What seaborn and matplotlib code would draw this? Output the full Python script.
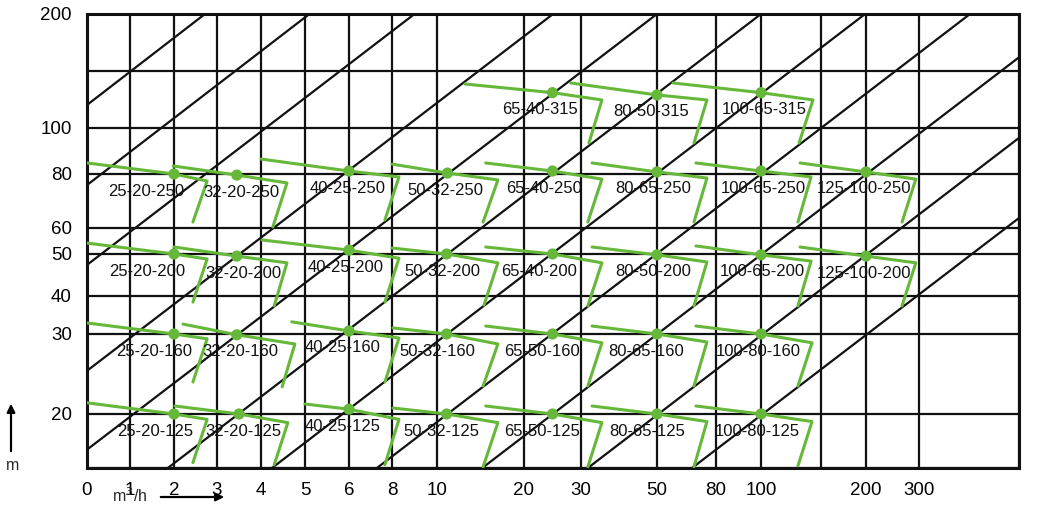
import numpy as np
import pandas as pd
import matplotlib
matplotlib.use("Agg")
import matplotlib.pyplot as plt
import seaborn as sns

# chart grid: flow Q (m3/h) and head H (m), with where each grid line sits on the sheet (px)
q_grid = [0, 1, 2, 3, 4, 5, 6, 8, 10, 20, 30, 50, 80, 100, 150, 200, 300, 500]
q_grid_px = [87, 130, 174, 217, 261, 305, 349, 392, 437, 524, 581, 657, 716, 761, 821, 866, 919, 1019]
q_labels = ["0", "1", "2", "3", "4", "5", "6", "8", "10", "20", "30", "50", "80", "100", "", "200", "300", ""]
h_grid = [15, 20, 30, 40, 50, 60, 80, 100, 150, 200]
h_grid_px = [468, 414, 334, 296, 254, 228, 174, 128, 71, 14]
h_labels = ["", "20", "30", "40", "50", "60", "80", "100", "", "200"]

# pump models: duty point, start of the curve, right corner and lower end of the range
names = ["65-40-315", "80-50-315", "100-65-315",
         "25-20-250", "32-20-250", "40-25-250", "50-32-250", "65-40-250", "80-65-250", "100-65-250", "125-100-250",
         "25-20-200", "32-20-200", "40-25-200", "50-32-200", "65-40-200", "80-50-200", "100-65-200", "125-100-200",
         "25-20-160", "32-20-160", "40-25-160", "50-32-160", "65-50-160", "80-65-160", "100-80-160",
         "25-20-125", "32-20-125", "40-25-125", "50-32-125", "65-50-125", "80-65-125", "100-80-125"]
dot_q = [25, 50, 100,
         2, 3.45, 6, 11.2, 25, 50, 100, 200,
         2, 3.45, 6, 11.1, 25, 50, 100, 200,
         2, 3.45, 6, 11.1, 25, 50, 100,
         2, 3.5, 6, 11.1, 25, 50, 100]
dot_h = [131, 129, 131,
         80, 79.6, 81.3, 80.4, 81.3, 80.9, 81.3, 80.9,
         50, 49.5, 51.5, 50, 50, 49.8, 49.8, 49.5,
         30, 29.9, 30.8, 30, 30, 30, 30,
         20, 20, 20.6, 20, 20, 20, 20]
start_q = [13.2, 28.2, 58.1,
           0, 1.98, 4.0, 8.0, 15.6, 32.9, 69.8, 132.5,
           0, 2.0, 4.02, 8.0, 15.6, 32.9, 69.8, 132.5,
           0, 2.21, 4.7, 8.04, 15.6, 32.9, 69.8,
           0, 2.02, 5.0, 8.04, 15.6, 32.9, 69.8]
start_h = [138.6, 139.5, 139.5,
           84.8, 83.5, 86.5, 84.3, 84.8, 84.8, 84.8, 84.8,
           54.2, 52.7, 55.4, 52.3, 52.7, 52.7, 53.1, 52.7,
           32.9, 32.6, 33.2, 31.6, 32.1, 32.1, 32.1,
           21.4, 21.0, 21.25, 20.75, 21.0, 21.0, 21.0]
corner_q = [35.5, 75.4, 143.3,
            2.77, 4.59, 8.31, 17.0, 35.5, 75.4, 141.7, 294,
            2.77, 4.59, 8.31, 17.0, 35.5, 75.4, 141.7, 294,
            2.77, 4.77, 8.31, 17.0, 35.5, 75.4, 142.5,
            2.77, 4.61, 8.31, 17.0, 35.5, 75.4, 142.5]
corner_h = [124.6, 124.6, 124.6,
            77.4, 76.7, 78.9, 77.8, 78.1, 78.5, 78.9, 78.1,
            48.8, 47.9, 49.0, 47.9, 47.9, 48.1, 48.3, 47.9,
            29.4, 28.75, 29.5, 28.75, 28.9, 29.0, 28.9,
            19.5, 19.2, 19.5, 19.2, 19.2, 19.3, 19.3]
end_q = [32.1, 68.8, 131.7,
         2.44, 4.27, 7.67, 15.3, 31.8, 68.8, 130.8, 268,
         2.44, 4.3, 7.67, 15.4, 31.8, 68.8, 130.8, 268,
         2.44, 4.48, 7.67, 15.3, 31.8, 68.8, 130.8,
         2.44, 4.3, 7.67, 15.3, 31.8, 68.8, 130.8]
end_h = [93.5, 93.5, 93.5,
         62.2, 60.4, 63.0, 62.2, 62.2, 62.2, 62.2, 62.2,
         38.4, 37.4, 38.4, 37.6, 37.4, 37.4, 37.4, 37.4,
         24.0, 23.4, 24.0, 23.5, 23.5, 23.5, 23.5,
         15.5, 15.3, 15.3, 15.1, 15.1, 15.1, 15.2]

# black diagonal reference lines (start / end points)
diag_q0 = [0, 0, 0, 0, 0, 1.86, 4.25, 7.3, 15.2, 31.8, 67.8]
diag_h0 = [120.2, 75.9, 47.4, 25.4, 16.7, 15, 15, 15, 15, 15, 15]
diag_q1 = [2.72, 5.1, 9.0, 25.1, 50, 100, 199, 402, 500, 500, 500]
diag_h1 = [200, 200, 200, 200, 200, 200, 200, 200, 162, 95.7, 63.7]

# horizontal nudge of each model label (px)
label_dx = [-12, -6, 3,
            -28, 5, -1, -2, -8, -4, 2, -2,
            -27, 7, -3, -4, -13, -4, 1, -2,
            -20, 4, -6, -9, -10, -11, -3,
            -19, 4, -6, -5, -10, -10, -4]

green = "#66b83a"

sns.set_theme(style="white")
plt.rcParams["font.family"] = ["Liberation Sans", "DejaVu Sans"]

W, H = 1038, 514
fig = plt.figure(figsize=(W / 100, H / 100), dpi=100)
ax = fig.add_axes([87 / W, 1 - 468 / H, (1019 - 87) / W, (468 - 14) / H])

qpos = np.array(q_grid_px, dtype=float)
hpos = -np.array(h_grid_px, dtype=float)


def q_fwd(v):
    return np.interp(v, q_grid, qpos)


def q_inv(p):
    return np.interp(p, qpos, q_grid)


def h_fwd(v):
    return np.interp(v, h_grid, hpos)


def h_inv(p):
    return np.interp(p, hpos, h_grid)


ax.set_xscale("function", functions=(q_fwd, q_inv))
ax.set_yscale("function", functions=(h_fwd, h_inv))
ax.set_xlim(q_grid[0], q_grid[-1])
ax.set_ylim(h_grid[0], h_grid[-1])

ax.set_xticks(q_grid)
ax.set_xticklabels(q_labels)
ax.set_yticks(h_grid)
ax.set_yticklabels(h_labels)
ax.grid(True, color="#111111", lw=1.6)
ax.tick_params(axis="both", length=0, labelsize=13.5, colors="black")
ax.tick_params(axis="x", pad=10)
ax.tick_params(axis="y", pad=11)
for s in ax.spines.values():
    s.set_color("#111111")
    s.set_linewidth(2.2)
    s.set_visible(True)

for i in range(len(diag_q0)):
    ax.plot([diag_q0[i], diag_q1[i]], [diag_h0[i], diag_h1[i]], color="#111111", lw=1.6, zorder=2)

# pump curves
rows = []
for i, n in enumerate(names):
    pts = [(start_q[i], start_h[i]), (dot_q[i], dot_h[i]), (corner_q[i], corner_h[i]), (end_q[i], end_h[i])]
    for k, (q, h) in enumerate(pts):
        rows.append({"pump": n, "step": k, "Q": q, "H": h})
shapes = pd.DataFrame(rows)

sns.lineplot(data=shapes, x="Q", y="H", units="pump", estimator=None, sort=False,
             color=green, lw=2.2, ax=ax, legend=False, zorder=3)
sns.scatterplot(x=dot_q, y=dot_h, color=green, s=65, edgecolor="none", ax=ax, zorder=4)

for i, n in enumerate(names):
    ax.annotate(n, (dot_q[i], dot_h[i]), xytext=(label_dx[i], -17), textcoords="offset pixels",
                ha="center", va="center", fontsize=12, color="#111111", zorder=5)

ax.set_xlim(q_grid[0], q_grid[-1])
ax.set_ylim(h_grid[0], h_grid[-1])
ax.set_xlabel("")
ax.set_ylabel("")

# unit labels with arrows
fig.text(112 / W, 1 - 502 / H, "m$^3$/h", fontsize=11.5, va="baseline", ha="left")
fig.add_artist(plt.Annotation("", xy=(227 / W, 1 - 497 / H), xytext=(158 / W, 1 - 497 / H),
                              xycoords="figure fraction", textcoords="figure fraction",
                              arrowprops=dict(arrowstyle="-|>", color="black", lw=1.6, mutation_scale=12)))
fig.text(13 / W, 1 - 465 / H, "m", fontsize=11.5, va="center", ha="center")
fig.add_artist(plt.Annotation("", xy=(11 / W, 1 - 401 / H), xytext=(11 / W, 1 - 454 / H),
                              xycoords="figure fraction", textcoords="figure fraction",
                              arrowprops=dict(arrowstyle="-|>", color="black", lw=1.6, mutation_scale=12)))

fig.savefig("out.png", dpi=100, facecolor="white")
